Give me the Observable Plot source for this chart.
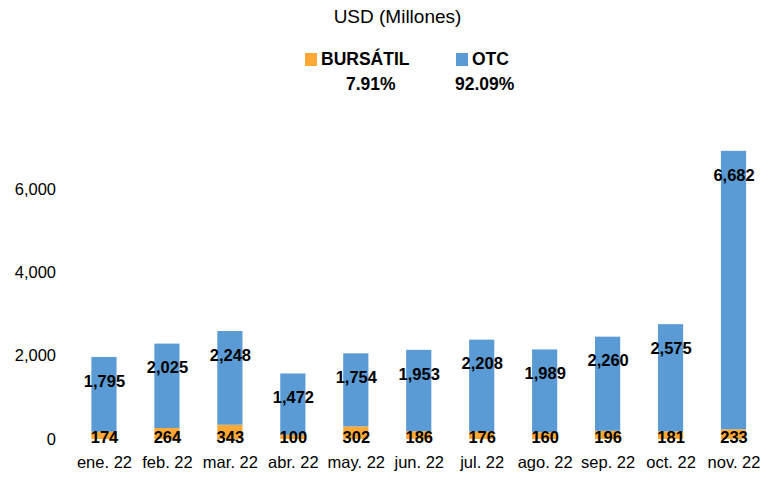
<!DOCTYPE html>
<html>
<head>
<meta charset="utf-8">
<script src="https://cdn.jsdelivr.net/npm/d3@7"></script>
<script src="https://cdn.jsdelivr.net/npm/@observablehq/plot@0.6"></script>
<style>
  html, body { margin: 0; padding: 0; background: #fff; }
  #wrap { position: relative; width: 765px; height: 479px; font-family: "Liberation Sans", Arial, sans-serif; color: #000; }
  .abs { position: absolute; white-space: nowrap; }
  .sq { position: absolute; width: 12px; height: 13px; }
</style>
</head>
<body>
<div id="wrap">
  <div id="chart" class="abs" style="left:0;top:0"></div>
  <div class="abs" style="left:0;width:795px;top:6px;text-align:center;font-size:19px;">USD (Millones)</div>
  <div class="sq" style="left:305px;top:53px;background:#FFA834"></div>
  <div class="abs" style="left:321px;top:49px;font-size:17.5px;font-weight:bold;">BURSÁTIL</div>
  <div class="abs" style="left:346px;top:74px;font-size:17.5px;font-weight:bold;">7.91%</div>
  <div class="sq" style="left:456px;top:53px;background:#5B9BD5"></div>
  <div class="abs" style="left:472px;top:49px;font-size:17.5px;font-weight:bold;">OTC</div>
  <div class="abs" style="left:455px;top:74px;font-size:17.5px;font-weight:bold;">92.09%</div>
</div>
<script>
const months = ["ene. 22","feb. 22","mar. 22","abr. 22","may. 22","jun. 22","jul. 22","ago. 22","sep. 22","oct. 22","nov. 22"];
const bursatil = [174, 264, 343, 100, 302, 186, 176, 160, 196, 181, 233];
const otc = [1795, 2025, 2248, 1472, 1754, 1953, 2208, 1989, 2260, 2575, 6682];
const yTicks = [0, 2000, 4000, 6000];

const rows = [];
months.forEach((m, i) => {
  rows.push({month: m, serie: "BURSÁTIL", value: bursatil[i]});
  rows.push({month: m, serie: "OTC", value: otc[i]});
});
const totals = months.map((m, i) => ({month: m, b: bursatil[i], o: otc[i], total: bursatil[i] + otc[i]}));
const fmt = d3.format(",");

const chart = Plot.plot({
  width: 765,
  height: 479,
  marginLeft: 72.5,
  marginRight: 0,
  marginTop: 147.3,
  marginBottom: 40,
  style: {fontFamily: "'Liberation Sans', Arial, sans-serif", fontSize: "16.5px", color: "#000", background: "#fff"},
  x: {domain: months, label: null, paddingInner: 0.6, paddingOuter: 0.3, round: false, tickSize: 0, tickPadding: 17},
  y: {domain: [0, 7000], ticks: yTicks, tickFormat: fmt, label: null, tickSize: 0, tickPadding: 17},
  color: {domain: ["BURSÁTIL", "OTC"], range: ["#FFA834", "#5B9BD5"]},
  marks: [
    Plot.barY(rows, Plot.stackY({x: "month", y: "value", fill: "serie", order: ["BURSÁTIL", "OTC"]})),
    Plot.text(totals, {x: "month", y: "total", text: d => fmt(d.o), dy: 24, fontWeight: "bold", fontSize: 16.5, fill: "#000"}),
    Plot.text(totals, {x: "month", y: 0, text: d => fmt(d.b), dy: -2, fontWeight: "bold", fontSize: 16.5, fill: "#000"})
  ]
});
document.getElementById("chart").appendChild(chart);
</script>
</body>
</html>
